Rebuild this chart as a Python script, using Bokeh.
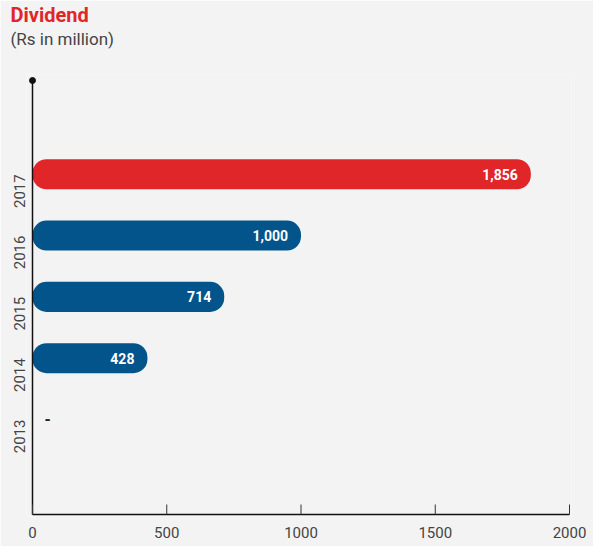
import math
from bokeh.plotting import figure
from bokeh.models import Range1d, FixedTicker, Title, ColumnDataSource
from bokeh.core.properties import value
from bokeh.embed import file_html
from bokeh.resources import INLINE

# ---- data ----
years = ["2013", "2014", "2015", "2016", "2017"]
dividend = [0, 428, 714, 1000, 1856]
value_labels = ["-", "428", "714", "1,000", "1,856"]
x_ticks = [0, 500, 1000, 1500, 2000]

RED = "#e1262a"
BLUE = "#03548a"
BG = "#f3f3f3"
FONT = "Roboto"

W, H = 593, 546
left_b, right_b, top_b, bottom_b = 26, 22, 74, 30
frame_w = W - left_b - right_b
frame_h = H - top_b - bottom_b

xs = 537 / 2000.0
x_start = -6 / xs
x_end = x_start + frame_w / xs
ys = 61.3
y_axis = -1.55
y_start = y_axis - 2 / ys
y_end = y_start + frame_h / ys

p = figure(width=W, height=H, output_backend="svg", toolbar_location=None,
           title=None,
           x_range=Range1d(x_start, x_end), y_range=Range1d(y_start, y_end),
           min_border_left=left_b, min_border_right=right_b,
           min_border_top=top_b, min_border_bottom=bottom_b)
p.background_fill_color = BG
p.border_fill_color = BG
p.outline_line_color = None
p.grid.visible = False

# bars
idx = [i for i, v in enumerate(dividend) if v > 0]
src = ColumnDataSource(dict(
    y=[i for i in idx],
    right=[dividend[i] for i in idx],
    color=[RED if years[i] == "2017" else BLUE for i in idx],
    lab=[value_labels[i] for i in idx],
))
p.hbar(y="y", left=0, right="right", height=0.49, fill_color="color",
       line_color=None, source=src, border_radius=14)
p.text(x="right", y="y", text="lab", source=src, x_offset=-13,
       text_align="right", text_baseline="middle", text_color="white",
       text_font=value(FONT), text_font_style="bold", text_font_size="14px")

# zero-value entries
zidx = [i for i, v in enumerate(dividend) if v == 0]
p.text(x=[dividend[i] for i in zidx], y=zidx, text=[value_labels[i] for i in zidx],
       x_offset=12, text_align="left", text_baseline="middle", text_color="#222222",
       text_font=value(FONT), text_font_style="bold", text_font_size="16px")

# axis lines, ticks and dot
top_dot = y_end - 6 / ys
p.segment(x0=[0], y0=[y_axis], x1=[0], y1=[top_dot], line_color="#111111", line_width=1.5)
p.scatter(x=[0], y=[top_dot], size=6, color="#111111")
p.segment(x0=[0], y0=[y_axis], x1=[2000], y1=[y_axis], line_color="#111111", line_width=1.5)
p.segment(x0=x_ticks, y0=[y_axis] * len(x_ticks), x1=x_ticks,
          y1=[y_axis + 10 / ys] * len(x_ticks), line_color="#333333", line_width=1)

# x axis (labels only)
xa = p.xaxis[0]
xa.ticker = FixedTicker(ticks=x_ticks)
xa.axis_line_color = None
xa.major_tick_line_color = None
xa.minor_tick_line_color = None
xa.major_label_text_font = FONT
xa.major_label_text_font_size = "15px"
xa.major_label_text_color = "#444444"
xa.major_label_standoff = 4

# y axis (labels only)
ya = p.yaxis[0]
ya.ticker = FixedTicker(ticks=list(range(len(years))))
ya.major_label_overrides = {i: y for i, y in enumerate(years)}
ya.axis_line_color = None
ya.major_tick_line_color = None
ya.minor_tick_line_color = None
ya.major_label_orientation = math.pi / 2
ya.major_label_text_font = FONT
ya.major_label_text_font_size = "15px"
ya.major_label_text_color = "#444444"
ya.major_label_standoff = 1

# titles (stacked upward from the plot frame: spacer, subtitle, title)
p.add_layout(Title(text=" ", text_font=FONT, text_font_size="12px",
                   text_color=BG, standoff=10), "above")
p.add_layout(Title(text="(Rs in million)", text_font=FONT, text_font_size="17px",
                   text_font_style="normal", text_color="#444444", align="left",
                   offset=-16, standoff=0), "above")
p.add_layout(Title(text="Dividend", text_font=FONT, text_font_size="20px",
                   text_font_style="bold", text_color=RED, align="left",
                   offset=-16, standoff=0), "above")

open("out.html", "w").write(file_html(p, INLINE))
